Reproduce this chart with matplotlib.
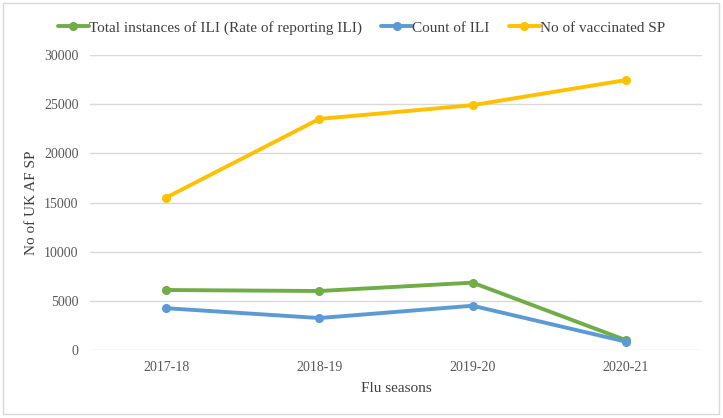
import matplotlib
matplotlib.use("Agg")
import matplotlib.pyplot as plt
from matplotlib.patches import Rectangle

seasons = ["2017-18", "2018-19", "2019-20", "2020-21"]
total_ili = [6100, 6000, 6850, 1000]
count_ili = [4250, 3250, 4500, 850]
vaccinated = [15500, 23500, 24900, 27450]
yticks = [0, 5000, 10000, 15000, 20000, 25000, 30000]

plt.rcParams['font.family'] = ['Liberation Serif', 'DejaVu Serif']

fig = plt.figure(figsize=(7.23, 4.18), dpi=100)
ax = fig.add_axes([0.1238, 0.1627, 0.8478, 0.7057])

# light grey frame round the whole chart, like the Excel chart area
fig.patches.append(Rectangle((0.004, 0.01), 0.991, 0.982, transform=fig.transFigure,
                             fill=False, edgecolor='#d9d9d9', linewidth=1.0))

x = range(len(seasons))
style = dict(linewidth=2.8, marker='o', markersize=5.5, solid_capstyle='round')
ax.plot(x, total_ili, color='#70AD47', label='Total instances of ILI (Rate of reporting ILI)', **style)
ax.plot(x, count_ili, color='#5B9BD5', label='Count of ILI', **style)
ax.plot(x, vaccinated, color='#FFC000', label='No of vaccinated SP', **style)

ax.set_xlim(-0.5, len(seasons) - 0.5)
ax.set_ylim(0, 30000)
ax.set_xticks(list(x))
ax.set_xticklabels(seasons)
ax.set_yticks(yticks)
ax.set_yticklabels([str(v) for v in yticks])
ax.grid(axis='y', color='#d9d9d9', linewidth=1.0)
ax.set_axisbelow(True)
for s in ax.spines.values():
    s.set_visible(False)
ax.tick_params(axis='both', length=0, labelsize=10, labelcolor='#595959')
ax.tick_params(axis='x', pad=8)
ax.tick_params(axis='y', pad=8)

ax.set_xlabel('Flu seasons', fontsize=11, color='#404040', labelpad=6)
ax.set_ylabel('No of UK AF SP', fontsize=11, color='#404040', labelpad=4)

fig.legend(loc='center', bbox_to_anchor=(0.5, 1 - 28 / 418), ncol=3, frameon=False,
           fontsize=11, handlelength=2.0, handletextpad=0.0, columnspacing=1.3,
           labelcolor='#404040')

fig.savefig('out.png', dpi=100)
